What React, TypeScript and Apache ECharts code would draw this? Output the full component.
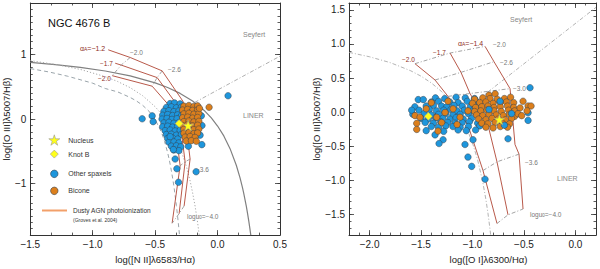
import { useEffect, useRef } from 'react';
import * as echarts from 'echarts';

const FONT = "'Liberation Sans', Arial, Helvetica, sans-serif";
const BLUE = '#1e96dc';
const ORANGE = '#dc7f1c';
const EDGE = '#34414d';
const YELLOW = '#ffff1a';
const ALPHA_RED = '#b04636';
const GRID_GRAY = '#8c8c8c';
const LABEL_RED = '#8e2c1c';
const STAR = 'path://M50,0L61.2,34.5L97.6,34.5L68.2,55.9L79.4,90.5L50,69.1L20.6,90.5L31.8,55.9L2.4,34.5L38.8,34.5Z';

// ---------- tick labels ----------
const leftXTicks = [-1.5, -1.0, -0.5, 0.0, 0.5];
const leftYTicks = [-1, 0, 1];
const rightXTicks = [-2.0, -1.5, -1.0, -0.5, 0.0];
const rightYTicks = [-1.5, -1.0, -0.5, 0.0, 0.5, 1.0, 1.5];

// ---------- left panel: demarcation curves ----------
const kewley01N2 = [[-1.5, 0.880], [-1.3, 0.845], [-1.1, 0.801], [-0.9, 0.745], [-0.7, 0.669], [-0.5, 0.561], [-0.4, 0.489], [-0.3, 0.398], [-0.2, 0.280], [-0.1, 0.120], [-0.05, 0.017], [0.0, -0.108], [0.05, -0.262], [0.1, -0.459], [0.15, -0.716], [0.18, -0.913], [0.2, -1.069], [0.21, -1.156], [0.23, -1.352], [0.24, -1.462], [0.25, -1.583], [0.26, -1.715], [0.266, -1.80]];
const stasinska06 = [[-1.5, 0.783], [-1.35, 0.730], [-1.2, 0.664], [-1.0, 0.556], [-0.9, 0.474], [-0.8, 0.421], [-0.7, 0.335], [-0.65, 0.281], [-0.6, 0.213], [-0.55, 0.123], [-0.5, -0.007], [-0.45, -0.203], [-0.425, -0.344], [-0.4, -0.520], [-0.385, -0.649], [-0.37, -0.803], [-0.36, -0.916], [-0.35, -1.04], [-0.34, -1.187], [-0.33, -1.34], [-0.32, -1.51], [-0.31, -1.70], [-0.305, -1.80]];
const kauffmann03 = [[-1.5, 0.906], [-1.3, 0.848], [-1.1, 0.770], [-0.9, 0.658], [-0.8, 0.582], [-0.7, 0.487], [-0.6, 0.362], [-0.5, 0.191], [-0.45, 0.080], [-0.4, -0.056], [-0.35, -0.225], [-0.3, -0.443], [-0.25, -0.733], [-0.22, -0.959], [-0.2, -1.143], [-0.18, -1.352], [-0.16, -1.605], [-0.15, -1.75], [-0.146, -1.812]];
const schawinski07 = [[-0.183, 0.258], [0.5, 0.975]];

// ---------- left panel: Groves et al. 2004 grid ----------
const grovesLA12 = [[-0.876, 1.074], [-0.700, 0.955], [-0.444, 0.747], [-0.276, 0.272], [-0.220, -0.620], [-0.268, -1.348]];
const grovesLA17 = [[-0.820, 0.866], [-0.772, 0.837], [-0.484, 0.643], [-0.316, 0.198], [-0.260, -0.664], [-0.308, -1.467]];
const grovesLA20 = [[-0.844, 0.673], [-0.524, 0.510], [-0.356, 0.138], [-0.300, -0.724], [-0.364, -1.615]];
const grovesLU20 = [[-0.700, 0.955], [-0.772, 0.837], [-0.844, 0.673]];
const grovesLU26 = [[-0.444, 0.747], [-0.484, 0.643], [-0.524, 0.510]];
const grovesLU30 = [[-0.276, 0.272], [-0.316, 0.198], [-0.356, 0.138]];
const grovesLU36 = [[-0.220, -0.620], [-0.260, -0.664], [-0.300, -0.724]];
const grovesLU40 = [[-0.268, -1.348], [-0.308, -1.467], [-0.364, -1.615]];

// ---------- left panel: spaxels ----------
const leftBlue = [
  [-0.38, 0.24], [-0.345, 0.25], [-0.30, 0.235],
  [-0.41, 0.18], [-0.37, 0.19], [-0.33, 0.175], [-0.29, 0.185],
  [-0.43, 0.12], [-0.39, 0.13], [-0.35, 0.115], [-0.31, 0.125],
  [-0.44, 0.06], [-0.40, 0.07], [-0.36, 0.055], [-0.32, 0.065], [-0.29, 0.05],
  [-0.445, 0.0], [-0.405, 0.01], [-0.365, -0.005], [-0.325, 0.005],
  [-0.43, -0.06], [-0.39, -0.05], [-0.35, -0.065], [-0.31, -0.055],
  [-0.44, -0.12], [-0.40, -0.11], [-0.36, -0.125], [-0.32, -0.115], [-0.29, -0.13],
  [-0.42, -0.18], [-0.38, -0.17], [-0.34, -0.185], [-0.30, -0.175],
  [-0.41, -0.24], [-0.37, -0.235], [-0.33, -0.25], [-0.29, -0.24],
  [-0.40, -0.30], [-0.36, -0.295], [-0.32, -0.31],
  [-0.39, -0.36], [-0.35, -0.355], [-0.31, -0.37],
  [-0.37, -0.42], [-0.33, -0.415], [-0.295, -0.43],
  [-0.35, -0.48], [-0.31, -0.49],
  [0.084, 0.361], [-0.604, 0.004], [-0.524, 0.049], [-0.516, -0.04],
  [-0.354, -0.473], [-0.34, -0.62], [-0.326, -0.77], [-0.313, -0.981], [-0.172, -0.817],
  [-0.234, -0.422], [-0.126, -0.397], [-0.38, -0.273], [-0.13, 0.05], [-0.125, -0.10], [-0.14, -0.25]
];
const leftOrange = [
  [-0.27, 0.20], [-0.23, 0.21], [-0.19, 0.195], [-0.16, 0.205],
  [-0.28, 0.14], [-0.24, 0.15], [-0.20, 0.135], [-0.16, 0.145],
  [-0.27, 0.08], [-0.23, 0.09], [-0.19, 0.075], [-0.15, 0.085],
  [-0.28, 0.02], [-0.24, 0.03], [-0.20, 0.015], [-0.16, 0.025],
  [-0.27, -0.04], [-0.23, -0.03], [-0.19, -0.045], [-0.15, -0.035],
  [-0.28, -0.10], [-0.24, -0.09], [-0.20, -0.105], [-0.16, -0.095],
  [-0.27, -0.16], [-0.23, -0.15], [-0.19, -0.165], [-0.15, -0.155],
  [-0.27, -0.22], [-0.23, -0.21], [-0.19, -0.225], [-0.16, -0.215],
  [-0.26, -0.28], [-0.22, -0.27], [-0.18, -0.285],
  [-0.25, -0.34], [-0.21, -0.335], [-0.17, -0.345],
  [-0.145, 0.165], [-0.068, 0.183]
];
const leftNucleus = [[-0.236, -0.10]];
const leftKnotB = [[-0.308, -0.07]];

// ---------- right panel: demarcation curves ----------
const kewley01O1 = [[-2.2, 0.877], [-2.0, 0.812], [-1.8, 0.727], [-1.6, 0.607], [-1.5, 0.528], [-1.4, 0.429], [-1.3, 0.302], [-1.2, 0.133], [-1.1, -0.101], [-1.05, -0.257], [-1.0, -0.450], [-0.95, -0.698], [-0.9, -1.025], [-0.87, -1.277], [-0.85, -1.478], [-0.83, -1.712], [-0.82, -1.844]];
const kewley06O1 = [[-1.127, -0.030], [0.2, 1.536]];

// ---------- right panel: Groves et al. 2004 grid ----------
const grovesRA20 = [[-1.559, 0.711], [-1.364, 0.472], [-1.238, 0.232], [-1.044, -0.191], [-0.898, -0.854], [-0.762, -1.630]];
const grovesRA17 = [[-1.218, 0.867], [-1.112, 0.584], [-1.024, 0.274], [-0.849, -0.191], [-0.762, -0.727], [-0.655, -1.503]];
const grovesRA14 = [[-0.878, 0.965], [-0.791, 0.740], [-0.635, 0.345], [-0.587, -0.473], [-0.548, -0.614], [-0.509, -1.418]];
const grovesRU20 = [[-1.559, 0.711], [-1.218, 0.867], [-0.878, 0.965]];
const grovesRU26 = [[-1.364, 0.472], [-1.112, 0.584], [-0.791, 0.740]];
const grovesRU30 = [[-1.238, 0.232], [-1.024, 0.274], [-0.635, 0.345]];
const grovesRU36 = [[-0.898, -0.854], [-0.762, -0.727], [-0.548, -0.614]];
const grovesRU40 = [[-0.762, -1.630], [-0.655, -1.503], [-0.509, -1.418]];

// ---------- right panel: spaxels ----------
const rightBlue = [
  [-1.36, 0.21], [-1.27, 0.20], [-1.16, 0.22], [-1.07, 0.21], [-0.98, 0.20],
  [-1.40, 0.15], [-1.33, 0.16], [-1.22, 0.15], [-1.14, 0.14], [-1.05, 0.16], [-0.96, 0.15],
  [-1.56, 0.08], [-1.45, 0.09], [-1.38, 0.10], [-1.30, 0.09], [-1.25, 0.08], [-1.18, 0.10], [-1.10, 0.09], [-1.02, 0.08], [-0.93, 0.10],
  [-1.52, 0.03], [-1.42, 0.04], [-1.35, 0.02], [-1.28, 0.03], [-1.21, 0.04], [-1.15, 0.02], [-1.08, 0.03], [-1.00, 0.02],
  [-1.58, -0.03], [-1.47, -0.02], [-1.40, -0.04], [-1.33, -0.03], [-1.26, -0.02], [-1.19, -0.04], [-1.12, -0.03], [-1.04, -0.02],
  [-1.50, -0.09], [-1.43, -0.10], [-1.36, -0.08], [-1.29, -0.09], [-1.22, -0.10], [-1.16, -0.08], [-1.09, -0.10], [-1.01, -0.09],
  [-1.46, -0.15], [-1.38, -0.16], [-1.31, -0.14], [-1.24, -0.15], [-1.17, -0.16], [-1.10, -0.15], [-1.03, -0.14], [-0.95, -0.16],
  [-1.40, -0.21], [-1.33, -0.22], [-1.26, -0.20], [-1.19, -0.21], [-1.12, -0.22], [-1.04, -0.21], [-0.93, -0.20],
  [-1.45, -0.27], [-1.28, -0.28], [-1.14, -0.26], [-1.06, -0.27], [-0.97, -0.26],
  [-1.527, 0.185], [-1.478, 0.185], [-1.591, 0.03],
  [-1.364, -0.332], [-1.286, -0.403], [-1.325, -0.459], [-1.073, -0.473], [-0.995, -0.403],
  [-1.044, -0.657], [-1.008, -0.793], [-0.878, -0.981], [-0.655, -0.389], [-0.441, 0.359],
  [-0.46, -0.008], [-0.46, -0.12]
];
const rightBlueFront = [[-0.732, 0.161], [-0.62, -0.02], [-0.69, -0.19], [-0.84, 0.04]];
const rightOrange = [
  [-0.84, 0.25], [-0.78, 0.27],
  [-0.98, 0.19], [-0.90, 0.21], [-0.83, 0.20], [-0.76, 0.19], [-0.69, 0.20], [-0.63, 0.22],
  [-1.00, 0.13], [-0.93, 0.14], [-0.87, 0.15], [-0.80, 0.13], [-0.73, 0.14], [-0.67, 0.15], [-0.60, 0.14],
  [-0.97, 0.07], [-0.91, 0.08], [-0.85, 0.09], [-0.79, 0.07], [-0.73, 0.08], [-0.66, 0.09], [-0.60, 0.07],
  [-0.98, 0.01], [-0.92, 0.02], [-0.86, 0.03], [-0.79, 0.02], [-0.72, 0.01], [-0.65, 0.03], [-0.59, 0.02],
  [-0.96, -0.04], [-0.90, -0.05], [-0.84, -0.03], [-0.77, -0.04], [-0.70, -0.05], [-0.64, -0.03], [-0.59, -0.06],
  [-0.94, -0.10], [-0.87, -0.11], [-0.81, -0.09], [-0.75, -0.10], [-0.68, -0.11], [-0.62, -0.09],
  [-0.91, -0.16], [-0.85, -0.17], [-0.78, -0.15], [-0.71, -0.16], [-0.64, -0.17],
  [-0.87, -0.22], [-0.80, -0.23], [-0.73, -0.21], [-0.66, -0.22],
  [-0.509, 0.161], [-0.46, 0.091], [-0.538, 0.063], [-0.431, 0.091], [-0.47, 0.02], [-0.558, -0.022], [-0.522, -0.05],
  [-1.559, -0.05], [-1.51, -0.074], [-1.542, -0.163], [-1.348, -0.074], [-1.267, -0.004], [-1.189, 0.049],
  [-1.121, -0.074], [-1.044, 0.02], [-1.335, -0.276], [-1.542, -0.252], [-1.238, 0.161],
  [-1.45, 0.05], [-1.30, -0.15], [-1.15, -0.18], [-1.40, 0.14]
];
const rightNucleus = [[-0.739, -0.107]];
const rightKnotB = [[-1.429, -0.06]];

// ---------- helpers ----------
const steps = (min: number, max: number, step: number) => {
  const out: number[] = [];
  const n = Math.round((max - min) / step);
  for (let i = 0; i <= n; i++) out.push(+(min + i * step).toFixed(4));
  return out;
};
const fmt = (d: number) => (v: number) => {
  const r = Math.round(v * 10) / 10;
  const s = Math.abs(r).toFixed(d);
  return r < 0 ? '\u2212' + s : s;
};
const lineCol = { color: '#333', width: 1 };
const tick = (vals: number[], len: number) => ({ show: true, inside: true, length: len, customValues: vals, lineStyle: { color: '#333', width: 0.8 } });

function buildAxes(dim: 'x' | 'y', grid: number, min: number, max: number, major: number[], minor: number[], dec: number, name: string, nameGap: number, namePad: number[]) {
  const pos = dim === 'x' ? ['bottom', 'top'] : ['left', 'right'];
  const base: any = { type: 'value', gridIndex: grid, min, max, splitLine: { show: false }, axisLine: { onZero: false, show: false }, axisLabel: { show: false }, silent: true };
  return [
    {
      ...base, position: pos[0], axisLine: { onZero: false, show: true, lineStyle: lineCol }, axisTick: tick(major, 5),
      axisLabel: { show: true, customValues: major, margin: 4, fontSize: 10, color: '#222', fontFamily: FONT, formatter: fmt(dec) },
      name, nameLocation: 'middle', nameGap, nameTextStyle: { fontSize: 9.5, color: '#222', fontFamily: FONT, padding: namePad }
    },
    { ...base, position: pos[0], axisTick: tick(minor, 2.5) },
    { ...base, position: pos[1], axisLine: { onZero: false, show: true, lineStyle: lineCol }, axisTick: tick(major, 5) },
    { ...base, position: pos[1], axisTick: tick(minor, 2.5) },
  ];
}

const line = (name: string, data: number[][], ax: number, color: string, width: number, type: any, z = 2) => ({
  type: 'line', name, data, xAxisIndex: ax, yAxisIndex: ax, symbol: 'none', showSymbol: false,
  lineStyle: { color, width, type }, clip: true, silent: true, z,
});
const pts = (name: string, data: number[][], ax: number, color: string, size: number, symbol = 'circle', z = 4, border = EDGE) => ({
  type: 'scatter', name, data, xAxisIndex: ax, yAxisIndex: ax, symbol, symbolSize: size,
  itemStyle: { color, borderColor: border, borderWidth: 0.5, opacity: 1 }, silent: true, z,
});
const DASHDOT = [4, 2, 1, 2];

const txt = (x: number, y: number, text: string, size: number, fill: string, rich?: any) => ({
  type: 'text', x, y, silent: true,
  style: { text, fontSize: size, fill, fontFamily: FONT, align: 'left', verticalAlign: 'middle', textAlign: 'left', textVerticalAlign: 'middle', rich },
});
const sub = (size: number, col: string) => ({
  a: { fontSize: size, fill: col, fontFamily: FONT },
  s: { fontSize: size * 0.7, fill: col, fontFamily: FONT, padding: [3, 0, 0, 0] },
});

const legendBox = (name: string, color: string, border: string, left: number, top: number, size: number, pad: number) => ({
  data: [{ name, itemStyle: { color, borderColor: border, borderWidth: 0.6 } }],
  left, top, itemWidth: size, itemHeight: size, padding: 0, itemGap: 0,
  selectedMode: false, orient: 'horizontal',
  itemStyle: { borderWidth: 0.6 },
  textStyle: { fontSize: 7, color: '#333', fontFamily: FONT, padding: [0, 0, 0, pad] },
});

export default function App() {
  const ref = useRef<HTMLDivElement>(null);
  useEffect(() => {
    document.body.style.margin = '0';
    if (!ref.current) return;
    const chart = echarts.init(ref.current, undefined, { renderer: 'svg' });
    const xAxis = [
      ...buildAxes('x', 0, -1.5, 0.5, leftXTicks, steps(-1.5, 0.5, 1 / 6), 1, 'log([N II]\u03bb6583/H\u03b1)', 11, [0, 0, 0, 0]),
      ...buildAxes('x', 1, -2.2, 0.2, rightXTicks, steps(-2.2, 0.2, 0.1), 1, 'log([O I]\u03bb6300/H\u03b1)', 11, [0, 0, 0, 32]),
    ];
    const yAxis = [
      ...buildAxes('y', 0, -1.8, 1.8, leftYTicks, steps(-1.8, 1.8, 0.1), 0, 'log([O III]\u03bb5007/H\u03b2)', 18, [0, 0, 0, 0]),
      ...buildAxes('y', 1, -1.8, 1.6, rightYTicks, steps(-1.8, 1.6, 0.1), 1, 'log([O III]\u03bb5007/H\u03b2)', 25, [0, 0, 0, 0]),
    ];
    const L = 0, R = 4;
    const series: any[] = [
      line('Kewley 2001', kewley01N2, L, '#808080', 1.2, 'solid'),
      line('Stasinska 2006', stasinska06, L, '#9aa4aa', 1, [4, 3]),
      line('Kauffmann 2003', kauffmann03, L, '#a8a8a8', 1, [1.2, 2]),
      line('Schawinski 2007', schawinski07, L, '#9a9a9a', 0.8, DASHDOT),
      line('Dusty AGN photoionization', grovesLA12, L, ALPHA_RED, 0.9, 'solid'),
      line('alpha -1.7 L', grovesLA17, L, ALPHA_RED, 0.9, 'solid'),
      line('alpha -2.0 L', grovesLA20, L, ALPHA_RED, 0.9, 'solid'),
      line('logU -2.0 L', grovesLU20, L, GRID_GRAY, 0.8, DASHDOT),
      line('logU -2.6 L', grovesLU26, L, GRID_GRAY, 0.8, DASHDOT),
      line('logU -3.0 L', grovesLU30, L, GRID_GRAY, 0.8, DASHDOT),
      line('logU -3.6 L', grovesLU36, L, GRID_GRAY, 0.8, DASHDOT),
      line('logU -4.0 L', grovesLU40, L, GRID_GRAY, 0.8, DASHDOT),
      pts('Other spaxels', leftBlue, L, BLUE, 6.5),
      pts('Bicone', leftOrange, L, ORANGE, 6.5, 'circle', 5),
      pts('Knot B', leftKnotB, L, YELLOW, 8, 'diamond', 6, '#999'),
      pts('Nucleus', leftNucleus, L, YELLOW, 11, STAR, 7, '#999'),

      line('Kewley 2001 OI', kewley01O1, R, '#a0a0a0', 0.8, DASHDOT),
      line('Kewley 2006 OI', kewley06O1, R, '#a0a0a0', 0.8, DASHDOT),
      line('alpha -2.0 R', grovesRA20, R, ALPHA_RED, 0.9, 'solid'),
      line('alpha -1.7 R', grovesRA17, R, ALPHA_RED, 0.9, 'solid'),
      line('alpha -1.4 R', grovesRA14, R, ALPHA_RED, 0.9, 'solid'),
      line('logU -2.0 R', grovesRU20, R, GRID_GRAY, 0.8, DASHDOT),
      line('logU -2.6 R', grovesRU26, R, GRID_GRAY, 0.8, DASHDOT),
      line('logU -3.0 R', grovesRU30, R, GRID_GRAY, 0.8, DASHDOT),
      line('logU -3.6 R', grovesRU36, R, GRID_GRAY, 0.8, DASHDOT),
      line('logU -4.0 R', grovesRU40, R, GRID_GRAY, 0.8, DASHDOT),
      pts('Other spaxels', rightBlue, R, BLUE, 6.5),
      pts('Bicone', rightOrange, R, ORANGE, 6.5, 'circle', 5),
      pts('Other spaxels', rightBlueFront, R, BLUE, 6.5, 'circle', 5),
      pts('Knot B', rightKnotB, R, YELLOW, 8, 'diamond', 6, '#999'),
      pts('Nucleus', rightNucleus, R, YELLOW, 11, STAR, 7, '#999'),
    ];
    const legend = [
      legendBox('Nucleus', YELLOW, '#999', 48.5, 134.5, 11, 3.5),
      legendBox('Knot B', YELLOW, '#999', 50, 149.8, 8, 5),
      legendBox('Other spaxels', BLUE, EDGE, 50.25, 169.8, 7.5, 5.25),
      legendBox('Bicone', ORANGE, EDGE, 50.25, 186.8, 7.5, 5.25),
      {
        data: [{ name: 'Dusty AGN photoionization', icon: 'rect', itemStyle: { color: '#f2a06a', borderWidth: 0 } }],
        left: 42, top: 207, itemWidth: 25, itemHeight: 2, padding: 0, itemGap: 0,
        selectedMode: false, symbolKeepAspect: false,
        textStyle: { fontSize: 6.5, color: '#333', fontFamily: FONT, padding: [0, 0, 0, 1] },
      },
    ];
    const graphic = [
      txt(48, 23, 'NGC 4676 B', 11, '#111'),
      txt(243, 34, 'Seyfert', 7, '#888'),
      txt(243, 115, 'LINER', 7, '#888'),
      txt(80, 48, '{a|\u03b1}{s|A}{a|=\u22121.2}', 7, LABEL_RED, sub(7, LABEL_RED)),
      txt(100, 63, '\u22121.7', 6.5, LABEL_RED),
      txt(98, 78, '\u22122.0', 6.5, LABEL_RED),
      txt(130, 52, '\u22122.0', 6.5, '#777'),
      txt(168, 69, '\u22122.6', 6.5, '#777'),
      txt(196, 169, '\u22123.6', 6.5, '#777'),
      txt(187, 216, '{a|logu}{s|0}{a|=\u22124.0}', 6.5, '#777', sub(6.5, '#777')),
      txt(73, 219.5, '(Groves et al. 2004)', 5, '#333'),

      txt(510, 19, 'Seyfert', 7, '#888'),
      txt(557, 178, 'LINER', 7, '#888'),
      txt(458, 43, '{a|\u03b1}{s|A}{a|=\u22121.4}', 7, LABEL_RED, sub(7, LABEL_RED)),
      txt(433, 52, '\u22121.7', 6.5, LABEL_RED),
      txt(402, 59, '\u22122.0', 6.5, LABEL_RED),
      txt(493, 44, '\u22122.0', 6.5, '#777'),
      txt(500, 62, '\u22122.6', 6.5, '#777'),
      txt(513, 88, '\u22123.0', 6.5, '#777'),
      txt(525, 162, '\u22123.6', 6.5, '#777'),
      txt(530, 214, '{a|logu}{s|0}{a|=\u22124.0}', 6.5, '#777', sub(6.5, '#777')),
    ];
    chart.setOption({
      animation: false,
      backgroundColor: '#fff',
      grid: [
        { left: 30, top: 3, width: 250, height: 241 },
        { left: 349, top: 3, width: 247, height: 241 },
      ],
      xAxis, yAxis, series, legend, graphic,
    });
    return () => chart.dispose();
  }, []);
  return <div ref={ref} style={{ position: 'absolute', left: 0, top: 0, width: 600, height: 269 }} />;
}
